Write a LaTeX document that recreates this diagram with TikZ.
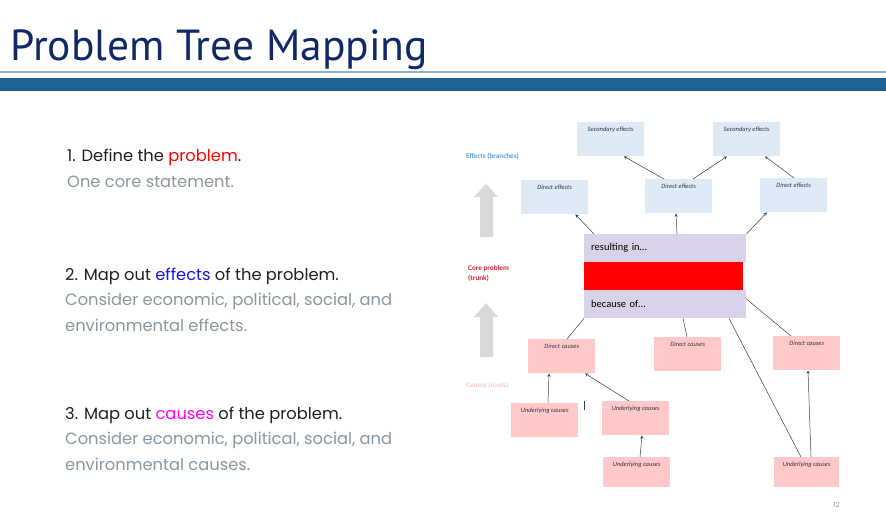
\documentclass[tikz,border=0pt]{standalone}
\usepackage{fontspec}
\setmainfont{Poppins}
\newfontfamily\titlefont{PT Sans}
\newfontfamily\boxfont{Carlito}
\usetikzlibrary{arrows.meta}
\definecolor{navy}{RGB}{14,40,104}
\definecolor{rulegray}{RGB}{148,174,200}
\definecolor{barblue}{RGB}{30,99,148}
\definecolor{notegray}{RGB}{138,150,160}
\definecolor{effblue}{RGB}{222,235,247}
\definecolor{causepink}{RGB}{255,201,201}
\definecolor{trunklav}{RGB}{217,210,233}
\definecolor{labelblue}{RGB}{91,155,213}
\definecolor{labelred}{RGB}{224,32,42}
\definecolor{labelpink}{RGB}{248,200,200}
\definecolor{boxtext}{RGB}{50,50,60}
\definecolor{linkgray}{RGB}{60,60,60}
\definecolor{bigarrow}{RGB}{217,217,217}

\begin{document}
\begin{tikzpicture}[x=1pt, y=-1pt, >=stealth,
  cell/.style={anchor=north west, minimum width=67, minimum height=34, inner xsep=0, inner ysep=3,
    text height=6, text depth=22, font=\boxfont\itshape\fontsize{6.5}{7}\selectfont, text=boxtext},
  effect/.style={cell, fill=effblue},
  cause/.style={cell, fill=causepink},
  trunk/.style={anchor=north west, minimum width=162, minimum height=28, inner sep=0, fill=trunklav,
    text width=148, align=left, font=\boxfont\fontsize{10.5}{12}\selectfont, text=black},
  side/.style={anchor=base west, inner sep=0, font=\boxfont\bfseries\fontsize{7.2}{10}\selectfont, align=left},
  head/.style={anchor=base west, inner sep=0, font=\fontsize{16.3}{26}\selectfont, text=black!88},
  note/.style={anchor=base west, inner sep=0, font=\fontsize{16.3}{26}\selectfont, text=notegray, align=left},
  link/.style={draw=linkgray, line width=0.5pt}]

  \useasboundingbox[fill=white] (0,0) rectangle (886,513);

  % title and rules
  \node[anchor=base west, inner sep=0, text=navy, font=\titlefont\fontsize{43.5}{46}\selectfont] (title) at (10,61) {Problem Tree Mapping};
  \fill[rulegray] (0,71.5) rectangle (886,73.5);
  \fill[barblue] (0,78) rectangle (886,91.5);

  % steps (two-line notes sit on the baseline of their last line)
  \node[head] (step1) at (67,162) {1. Define the \textcolor{red}{problem}.};
  \node[note] (note1) at (67,188) {One core statement.};
  \node[head] (step2) at (65,280) {2. Map out \textcolor[RGB]{20,20,235}{effects} of the problem.};
  \node[note] (note2) at (65,331) {Consider economic, political, social, and\\environmental effects.};
  \node[head] (step3) at (65,419) {3. Map out \textcolor[RGB]{255,0,255}{causes} of the problem.};
  \node[note] (note3) at (65,470) {Consider economic, political, social, and\\environmental causes.};

  % side labels and big arrows
  \node[side, text=labelblue] (branches) at (466,159) {Effects (branches)};
  \node[side, text=labelred] (core) at (468,280) {Core problem\\(trunk)};
  \node[side, text=labelpink] (roots) at (466,387) {Causes (roots)};
  \fill[bigarrow] (480,237) -- (480,197) -- (474,197) -- (486,184) -- (498,197) -- (493,197) -- (493,237) -- cycle;
  \fill[bigarrow] (480,357) -- (480,317) -- (474,317) -- (486,303) -- (498,317) -- (493,317) -- (493,357) -- cycle;

  % trunk
  \node[trunk] (re) at (584,234) {resulting in\ldots};
  \node[anchor=north west, minimum width=159, minimum height=28, inner sep=0, fill=red] (problem) at (584,262) {};
  \node[trunk] (bo) at (584,290) {because of\ldots};

  % effects
  \node[effect] (se1) at (577,122) {Secondary effects};
  \node[effect] (se2) at (713,122) {Secondary effects};
  \node[effect] (de1) at (521,180) {Direct effects};
  \node[effect] (de2) at (645,179) {Direct effects};
  \node[effect] (de3) at (760,178) {Direct effects};

  % causes
  \node[cause] (dc1) at (528,339) {Direct causes};
  \node[cause] (dc2) at (654,337) {Direct causes};
  \node[cause] (dc3) at (773,336) {Direct causes};
  \node[cause] (uc1) at (511,403) {Underlying causes};
  \node[cause] (uc2) at (602,401) {Underlying causes};
  \node[cause, minimum height=30, text depth=18] (uc3) at (603,457) {Underlying causes};
  \node[cause, minimum width=65, minimum height=30, text depth=18] (uc4) at (774,457) {Underlying causes};

  % links to effects
  \draw[link,->] ([xshift=10]re.north west) -- ([xshift=-13]de1.south east);
  \draw[link,->] ([xshift=93]re.north west) -- ([xshift=31]de2.south west);
  \draw[link,->] (re.north east) -- ([xshift=7]de3.south west);
  \draw[link,->] ([xshift=19]de2.north west) -- ([xshift=47]se1.south west);
  \draw[link,->] ([xshift=48]de2.north west) -- ([xshift=14]se2.south west);
  \draw[link,->] ([xshift=34]de3.north west) -- ([xshift=52]se2.south west);

  % links from causes
  \draw[link] ([xshift=39]dc1.north west) -- (bo.south west);
  \draw[link] ([xshift=33]dc2.north west) -- ([xshift=99]bo.south west);
  \draw[link] ([xshift=18]dc3.north west) -- ([yshift=-9]bo.north east);
  \draw[link] ([xshift=27]uc4.north west) -- ([xshift=145]bo.south west);
  \draw[link,->] ([xshift=37]uc1.north west) -- ([xshift=21]dc1.south west);
  \draw[link,->] ([xshift=27]uc2.north west) -- ([xshift=57]dc1.south west);
  \draw[link,->] ([xshift=37]uc3.north west) -- ([xshift=40]uc2.south west);
  \draw[link,->] ([xshift=37]uc4.north west) -- ([xshift=35]dc3.south west);
  \draw[linkgray, line width=0.6pt] (584,401) -- (584,410);

  % page number
  \node[anchor=base east, inner sep=0, text=notegray, font=\fontsize{7}{8}\selectfont] (page) at (840,507) {12};
\end{tikzpicture}
\end{document}
